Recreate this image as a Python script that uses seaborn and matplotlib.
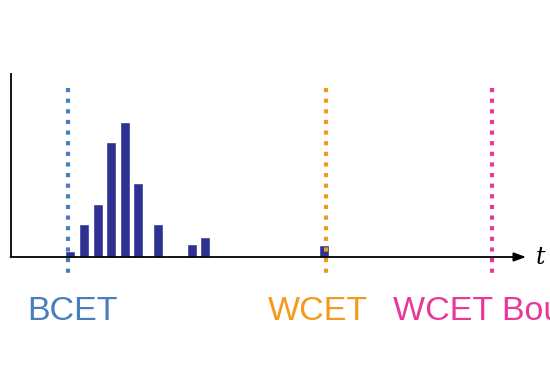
import matplotlib
matplotlib.use("Agg")
import matplotlib.pyplot as plt
import seaborn as sns
import pandas as pd

# Execution-time histogram (positions along t, bar heights in arbitrary units)
exec_times = [70, 84, 98, 111, 125, 138, 158, 192, 205, 324]
frequencies = [6, 33, 53, 115, 135, 74, 33, 13, 20, 12]

# Marker lines
marker_labels = ["BCET", "WCET", "WCET Bound"]
marker_positions = [68, 326, 492]
marker_colors = ["#4A7EBB", "#F39A1E", "#E8399A"]
label_x = [27, 268, 393]

sns.set_theme(style="white")
plt.rcParams['font.family'] = ['Liberation Sans', 'DejaVu Sans']

fig = plt.figure(figsize=(5.5, 3.66), dpi=100)
ax = fig.add_axes([0, 0, 1, 1])

df = pd.DataFrame({"t": exec_times, "freq": frequencies})
sns.barplot(data=df, x="t", y="freq", native_scale=True, width=0.78,
            color="#2E3192", saturation=1, ax=ax, zorder=2)

ax.set_xlim(0, 550)
ax.set_ylim(-109, 257)
ax.axis("off")

# Axes: vertical and horizontal with arrow
ax.plot([11, 11], [0, 184], color="black", lw=1.3, zorder=3, solid_capstyle="butt")
ax.annotate("", xy=(526, 0), xytext=(10.5, 0),
            arrowprops=dict(arrowstyle="-|>,head_length=0.6,head_width=0.22",
                            color="black", lw=1.3, shrinkA=0, shrinkB=0),
            zorder=3)
ax.text(536, 0, "t", fontsize=17, style="italic", va="center", ha="left",
        family=["DejaVu Serif"], color="black")

for pos, col, lab, lx in zip(marker_positions, marker_colors, marker_labels, label_x):
    ax.plot([pos, pos], [169, -21], color=col, lw=3.0,
            linestyle=(0, (1, 1.55)), dash_capstyle="butt", zorder=4)
    ax.text(lx, -54, lab, color=col, fontsize=24.5, va="center", ha="left",
            clip_on=False)

fig.savefig("out.png", dpi=100)
